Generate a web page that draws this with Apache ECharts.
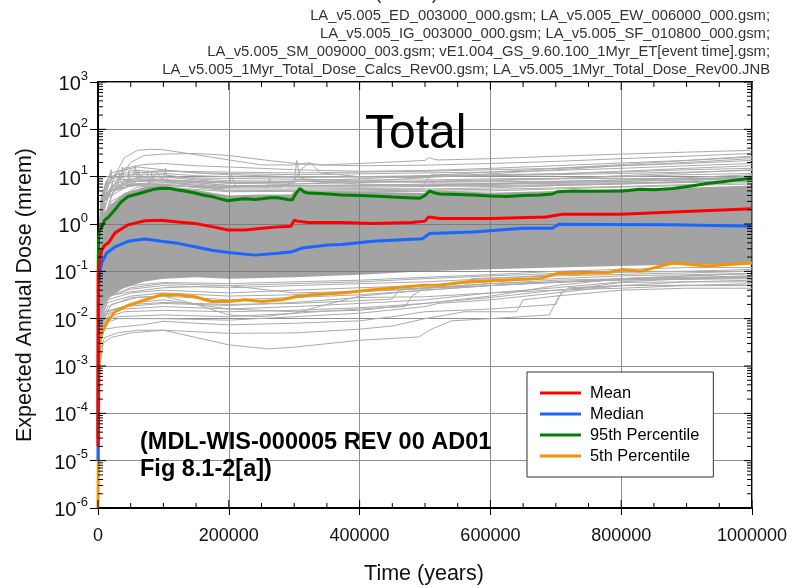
<!DOCTYPE html>
<html>
<head>
<meta charset="utf-8">
<script src="https://cdn.jsdelivr.net/npm/echarts@6/dist/echarts.min.js"></script>
<style>
  html, body { margin: 0; padding: 0; background: #fff; }
  #chart { width: 792px; height: 588px; }
</style>
</head>
<body>
<div id="chart"></div>
<script>
// Expected annual dose (mrem) versus time (years), pairs of [time, dose]
const meanDose = [[0,2e-5],[500,0.08],[1500,0.13],[5600,0.28],[10000,0.35],[16000,0.4],[26000,0.65],[46000,0.96],[72000,1.17],[97000,1.2],[122000,1.1],[148000,1.03],[174000,0.88],[199000,0.75],[225000,0.75],[251000,0.81],[281000,0.88],[295000,0.9],[300000,1.2],[305000,1.15],[321000,1.07],[373000,1.07],[420000,1.03],[480000,1.07],[500000,1.15],[505000,1.4],[523000,1.3],[600000,1.3],[685000,1.4],[710000,1.6],[800000,1.6],[880000,1.8],[1000000,2.1]];
const medianDose = [[0,1e-5],[1000,0.05],[3000,0.1],[5600,0.15],[13000,0.24],[26000,0.33],[46000,0.43],[72000,0.48],[97000,0.43],[122000,0.39],[148000,0.33],[174000,0.28],[199000,0.25],[240000,0.22],[275000,0.24],[297000,0.26],[312000,0.31],[352000,0.36],[373000,0.37],[420000,0.43],[496000,0.49],[507000,0.63],[573000,0.68],[650000,0.81],[694000,0.81],[705000,0.99],[778000,0.98],[879000,0.97],[1000000,0.9]];
const p95Dose = [[0,3e-5],[300,0.1],[800,0.5],[2000,0.7],[5000,0.8],[10000,1.2],[16000,1.4],[26000,2.0],[35000,2.9],[46000,3.8],[60000,4.3],[72000,4.8],[85000,5.4],[97000,5.7],[110000,5.6],[122000,5.2],[135000,4.9],[148000,4.5],[160000,4.1],[174000,3.8],[187000,3.4],[199000,3.1],[212000,3.3],[225000,3.4],[240000,3.3],[251000,3.4],[263000,3.6],[275000,3.6],[290000,3.3],[297000,3.2],[303000,4.5],[309000,5.6],[315000,4.8],[321000,4.5],[340000,4.4],[352000,4.3],[373000,4.1],[400000,4.0],[420000,3.9],[450000,3.7],[472000,3.6],[492000,3.5],[500000,4.0],[507000,5.0],[515000,4.5],[523000,4.3],[550000,4.2],[573000,4.1],[600000,3.9],[625000,3.8],[650000,4.0],[676000,4.1],[695000,4.3],[702000,4.8],[726000,5.0],[760000,4.9],[803000,5.0],[829000,5.4],[850000,5.3],[879000,5.6],[905000,6.3],[931000,7.2],[955000,7.8],[982000,8.7],[1000000,9.2]];
const p05Dose = [[0,1e-6],[1500,1e-3],[3000,0.003],[5600,0.0049],[16000,0.0093],[26000,0.014],[46000,0.019],[72000,0.025],[97000,0.032],[122000,0.032],[148000,0.029],[174000,0.023],[199000,0.023],[225000,0.025],[251000,0.023],[281000,0.025],[302000,0.029],[328000,0.032],[373000,0.035],[420000,0.041],[497000,0.051],[520000,0.051],[565000,0.06],[676000,0.071],[702000,0.09],[778000,0.093],[803000,0.11],[829000,0.1],[879000,0.15],[931000,0.13],[1000000,0.15]];

// Bulk of the realizations: upper and lower edge of the dense band
const coreUpper = [[0,1e-4],[500,0.5],[2000,1.0],[5000,1.3],[10000,1.8],[20000,2.6],[40000,4.5],[70000,6],[100000,6.5],[150000,5.2],[200000,4.0],[250000,4.2],[295000,4.2],[305000,5.5],[320000,5],[400000,4.8],[500000,4.5],[510000,5.2],[600000,4.6],[700000,5.0],[800000,5.5],[900000,5.8],[1000000,6.5]];
const coreLower = [[0,2e-6],[1500,1e-3],[4000,0.01],[10000,0.02],[20000,0.03],[40000,0.045],[70000,0.06],[100000,0.07],[150000,0.075],[200000,0.07],[300000,0.075],[400000,0.085],[500000,0.1],[600000,0.11],[700000,0.12],[800000,0.13],[900000,0.14],[1000000,0.14]];

// Individual high-dose realizations
const upperRuns = [
  [[2000,0.3],[10000,2],[25000,10],[40000,25],[60000,36],[80000,38],[100000,37],[150000,29],[200000,22.6],[250000,17.7],[300000,17.7],[320000,19.5],[340000,17.7],[400000,19],[500000,22],[505000,25],[520000,22.5],[600000,24],[700000,27],[800000,30],[900000,33],[1000000,36]],
  [[2000,0.2],[10000,1.5],[30000,8],[50000,20],[70000,28],[100000,30],[150000,31],[200000,28],[260000,22],[320000,18],[400000,17],[500000,17.5],[600000,19],[700000,21],[800000,24],[900000,27],[1000000,31]],
  [[2000,0.5],[8000,3],[20000,9],[40000,15],[70000,18],[100000,19],[150000,17],[200000,16],[300000,14],[400000,13],[500000,13.5],[600000,15],[700000,17],[800000,19.5],[900000,22],[1000000,26]],
  [[1500,0.3],[6000,2],[15000,7],[30000,13],[60000,16],[100000,14],[150000,12],[200000,11.7],[300000,11],[400000,11.5],[500000,12],[600000,12.5],[700000,13.5],[800000,15],[900000,17],[1000000,19]],
  [[1500,0.4],[5000,3],[12000,8],[25000,11],[50000,12.5],[90000,12],[150000,10.5],[200000,10],[300000,9.6],[400000,10],[500000,10.5],[600000,11],[700000,11.5],[800000,12.5],[900000,14],[1000000,15]],
  [[1000,0.2],[4000,2],[10000,6],[20000,9],[40000,10],[80000,10],[120000,9.5],[200000,9.2],[300000,8.8],[400000,8.5],[500000,8.5],[600000,9],[700000,9.2],[800000,10],[900000,11],[1000000,11.7]],
  [[1000,0.3],[5000,3],[15000,7],[30000,8.5],[60000,9],[100000,8.5],[200000,7.2],[300000,7],[400000,7.5],[500000,8],[600000,8.5],[700000,9],[800000,9.2],[900000,9.2],[1000000,9.2]],
  [[1000,0.2],[5000,2.5],[20000,6],[50000,7],[100000,7.5],[150000,7],[200000,6.1],[300000,6.5],[400000,6.7],[500000,6.7],[600000,7.2],[700000,7.9],[800000,8.5],[900000,9],[1000000,10]],
  [[1000,0.2],[8000,2],[20000,5],[60000,7],[120000,7],[200000,6],[280000,6],[300000,8],[304000,22],[308000,10],[320000,8],[400000,7],[500000,6.5],[600000,7],[700000,7.5],[800000,7.9],[900000,8.5],[1000000,9]],
  [[1000,0.2],[10000,3],[40000,8],[80000,9],[150000,8],[250000,7.5],[300000,8],[310000,14],[324000,20],[340000,12],[400000,10],[500000,9.5],[510000,11],[600000,10.5],[700000,11],[800000,11.7],[900000,12.5],[1000000,13.5]],
  [[1500,0.3],[10000,4],[40000,7],[100000,6.5],[180000,5.8],[200000,6],[204000,10.8],[210000,6.5],[260000,6],[262000,9.4],[268000,6.2],[300000,6],[400000,6],[500000,6.2],[600000,6.5],[700000,6.8],[800000,7.2],[900000,7.8],[1000000,8.5]],
  [[1500,0.4],[10000,4.5],[40000,6.5],[100000,6.8],[200000,5.5],[300000,5.5],[400000,5.6],[495000,5.5],[505000,10],[515000,6.5],[600000,6.2],[700000,6.5],[800000,7],[900000,8],[1000000,10.5]],
  [[2000,1],[10000,5],[20000,14],[22000,6],[35000,9],[37000,16],[40000,8],[55000,11],[57000,17],[60000,9],[75000,13],[77000,7],[90000,12],[100000,8],[150000,7.5],[200000,6.5],[300000,6.5],[400000,6.5],[500000,7],[700000,7.2],[1000000,8]],
  [[1000,0.3],[6000,2.5],[20000,6],[50000,8],[100000,8],[150000,6.5],[200000,5],[300000,5.2],[400000,5.3],[500000,5.5],[600000,5.8],[700000,6.5],[800000,7],[900000,7.5],[1000000,8]],
  [[1000,0.4],[8000,3.5],[25000,7],[60000,9.5],[100000,10],[150000,8.5],[200000,7.5],[300000,7.5],[310000,9],[400000,8],[500000,7.8],[600000,8.2],[700000,9],[800000,10.5],[900000,12],[1000000,14]],
  [[1500,0.5],[10000,4],[30000,6],[33000,12],[36000,7],[60000,8],[62000,14],[65000,8],[100000,9],[103000,15],[106000,8],[150000,7.5],[200000,6.5],[300000,6.3],[400000,6.3],[500000,6.5],[600000,6.8],[700000,7.5],[800000,8],[900000,8.7],[1000000,9.5]],
  [[1500,0.4],[8000,3],[25000,5],[45000,6],[47000,13],[50000,6.5],[80000,7],[82000,12],[85000,7],[120000,6.5],[200000,5],[300000,5],[400000,5],[500000,5.2],[600000,5.4],[700000,5.8],[800000,6.2],[900000,6.8],[1000000,7.5]],
  [[1000,0.3],[5000,3.5],[15000,9],[30000,11],[60000,11],[100000,11],[150000,9],[200000,8.2],[300000,8],[400000,7.8],[500000,7.6],[600000,7.8],[700000,8],[800000,8.5],[900000,9.5],[1000000,11]],
  [[1000,0.5],[5000,4],[20000,12],[40000,14],[80000,13],[120000,13],[200000,12.5],[300000,12],[400000,12.5],[500000,13],[600000,14],[700000,15],[800000,17],[900000,19],[1000000,22]],
  [[2000,0.4],[10000,3],[30000,9],[60000,12],[100000,13.5],[150000,12],[200000,11],[300000,10],[400000,9.8],[500000,10],[600000,10.5],[700000,11.5],[800000,13],[900000,15],[1000000,17]],
  [[1000,0.3],[6000,2.5],[20000,5.5],[60000,6.5],[100000,6],[200000,4.8],[300000,4.9],[400000,4.8],[500000,4.9],[600000,5],[700000,5.5],[800000,6],[900000,6.5],[1000000,7]],
  [[3000,0.3],[20000,4],[60000,8],[100000,8.5],[200000,7.5],[300000,8],[400000,9],[500000,10.5],[600000,12.5],[700000,15],[800000,18],[900000,22],[1000000,27]],
  [[3000,0.3],[20000,3],[60000,6],[100000,6.5],[200000,6],[300000,7],[400000,8],[500000,9.5],[600000,11.5],[700000,14],[800000,17],[900000,20],[1000000,24]]
];

// Individual low-dose realizations
const lowerRuns = [
  [[500,1e-5],[3000,0.001],[8000,0.003],[20000,0.004],[50000,0.005],[100000,0.0057],[150000,0.004],[200000,0.0028],[260000,0.0023],[300000,0.0025],[400000,0.0035],[490000,0.0041],[510000,0.006],[540000,0.009],[600000,0.01],[690000,0.012],[705000,0.03],[720000,0.045],[800000,0.05],[900000,0.05],[1000000,0.05]],
  [[500,2e-5],[3000,0.002],[10000,0.004],[30000,0.005],[60000,0.0057],[100000,0.0057],[200000,0.0049],[300000,0.005],[400000,0.006],[450000,0.007],[500000,0.01],[560000,0.014],[640000,0.014],[650000,0.025],[700000,0.03],[800000,0.04],[900000,0.044],[1000000,0.044]],
  [[500,3e-5],[3000,0.003],[10000,0.006],[30000,0.0066],[70000,0.0075],[100000,0.0088],[150000,0.008],[200000,0.0074],[300000,0.008],[400000,0.009],[450000,0.011],[500000,0.014],[600000,0.016],[700000,0.02],[710000,0.04],[800000,0.058],[900000,0.06],[1000000,0.06]],
  [[500,5e-5],[3000,0.004],[10000,0.008],[30000,0.01],[100000,0.01],[200000,0.0093],[300000,0.011],[400000,0.013],[500000,0.018],[520000,0.021],[600000,0.025],[700000,0.035],[800000,0.05],[900000,0.051],[1000000,0.051]],
  [[500,1e-4],[3000,0.005],[10000,0.009],[30000,0.011],[100000,0.012],[200000,0.011],[300000,0.013],[400000,0.016],[470000,0.018],[480000,0.03],[500000,0.045],[600000,0.05],[700000,0.058],[800000,0.066],[900000,0.07],[1000000,0.073]],
  [[500,1e-4],[3000,0.006],[10000,0.01],[40000,0.014],[100000,0.015],[200000,0.014],[300000,0.015],[400000,0.017],[500000,0.021],[600000,0.028],[700000,0.04],[800000,0.05],[900000,0.06],[1000000,0.065]],
  [[500,2e-4],[3000,0.007],[10000,0.012],[40000,0.016],[100000,0.018],[200000,0.016],[300000,0.018],[400000,0.021],[500000,0.025],[600000,0.035],[700000,0.045],[800000,0.06],[900000,0.07],[1000000,0.08]],
  [[500,3e-4],[3000,0.008],[10000,0.014],[40000,0.018],[100000,0.021],[200000,0.019],[300000,0.022],[400000,0.028],[500000,0.029],[600000,0.035],[700000,0.04],[800000,0.044],[900000,0.05],[1000000,0.055]],
  [[500,2e-4],[5000,0.006],[20000,0.015],[60000,0.022],[100000,0.025],[150000,0.02],[200000,0.016],[300000,0.014],[400000,0.015],[500000,0.021],[600000,0.03],[700000,0.05],[800000,0.07],[900000,0.08],[1000000,0.09]],
  [[500,3e-4],[5000,0.008],[20000,0.02],[60000,0.028],[100000,0.03],[150000,0.02],[200000,0.012],[250000,0.011],[300000,0.013],[350000,0.02],[400000,0.03],[500000,0.04],[600000,0.05],[800000,0.07],[1000000,0.09]],
  [[500,5e-4],[4000,0.01],[15000,0.025],[50000,0.035],[100000,0.04],[200000,0.035],[300000,0.04],[400000,0.045],[500000,0.05],[600000,0.06],[700000,0.07],[800000,0.08],[900000,0.085],[1000000,0.09]],
  [[500,6e-4],[4000,0.012],[15000,0.03],[50000,0.042],[100000,0.05],[200000,0.045],[300000,0.05],[400000,0.055],[500000,0.06],[600000,0.07],[700000,0.085],[800000,0.095],[900000,0.1],[1000000,0.11]],
  [[500,8e-4],[4000,0.015],[15000,0.035],[50000,0.05],[100000,0.058],[200000,0.055],[300000,0.06],[400000,0.065],[500000,0.075],[600000,0.085],[700000,0.1],[800000,0.11],[900000,0.12],[1000000,0.12]],
  [[500,1e-3],[4000,0.02],[15000,0.03],[50000,0.037],[100000,0.045],[200000,0.05],[300000,0.035],[400000,0.038],[500000,0.045],[560000,0.047],[570000,0.07],[700000,0.08],[1000000,0.1]],
  [[500,5e-4],[4000,0.008],[15000,0.018],[50000,0.028],[100000,0.03],[200000,0.025],[300000,0.028],[400000,0.032],[500000,0.04],[600000,0.05],[700000,0.06],[800000,0.068],[1000000,0.075]],
  [[500,4e-4],[4000,0.01],[15000,0.022],[50000,0.03],[100000,0.035],[200000,0.03],[300000,0.032],[400000,0.037],[500000,0.043],[600000,0.055],[700000,0.065],[800000,0.07],[1000000,0.08]],
  [[500,7e-4],[4000,0.013],[15000,0.028],[50000,0.045],[100000,0.055],[200000,0.05],[300000,0.055],[400000,0.06],[500000,0.07],[600000,0.08],[700000,0.09],[800000,0.1],[1000000,0.1]],
  [[500,3e-4],[4000,0.007],[15000,0.014],[50000,0.02],[100000,0.022],[200000,0.02],[300000,0.021],[400000,0.024],[450000,0.026],[460000,0.04],[500000,0.045],[600000,0.055],[800000,0.065],[1000000,0.07]]
];

const statNames = ['Mean', 'Median', '95th Percentile', '5th Percentile'];
const statColors = ['#ff0000', '#1a66ff', '#008000', '#f0950a'];

const headerLines = [
  'LA_v5.005_ED_003000_000.gsm; LA_v5.005_EW_006000_000.gsm;',
  'LA_v5.005_IG_003000_000.gsm; LA_v5.005_SF_010800_000.gsm;',
  'LA_v5.005_SM_009000_003.gsm; vE1.004_GS_9.60.100_1Myr_ET[event time].gsm;',
  'LA_v5.005_1Myr_Total_Dose_Calcs_Rev00.gsm; LA_v5.005_1Myr_Total_Dose_Rev00.JNB'
];

const FONT = '"Liberation Sans", Arial, Helvetica, sans-serif';
const X_MIN = 0, X_MAX = 1000000, Y_MIN = 1e-6, Y_MAX = 1e3;

const chart = echarts.init(document.getElementById('chart'), null, { renderer: 'canvas' });

const series = [];

// dense band of realizations
series.push({
  type: 'custom',
  name: 'core',
  silent: true,
  z: 1,
  data: [[0, 1]],
  renderItem: function (params, api) {
    const pts = coreUpper.map(p => api.coord(p))
      .concat(coreLower.slice().reverse().map(p => api.coord(p)));
    return { type: 'polygon', shape: { points: pts }, style: { fill: 'rgba(115,115,115,0.66)', stroke: 'none' } };
  }
});

upperRuns.concat(lowerRuns).forEach((run, i) => {
  series.push({
    type: 'line', name: 'run' + i, data: run, showSymbol: false, silent: true, z: 2,
    lineStyle: { color: '#ababab', width: 1 }, animation: false
  });
});

const statData = [meanDose, medianDose, p95Dose, p05Dose];
// draw order: orange, green, blue, red on top
[3, 2, 1, 0].forEach(i => {
  series.push({
    type: 'line', name: statNames[i], data: statData[i], showSymbol: false, z: 5 + (3 - i),
    lineStyle: { color: statColors[i], width: 3 }, itemStyle: { color: statColors[i] }, animation: false
  });
});

// tick marks on the plot frame
series.push({
  type: 'custom',
  name: 'frameTicks',
  silent: true,
  z: 10,
  clip: false,
  data: [[0, 1]],
  renderItem: function (params, api) {
    const kids = [];
    const seg = (x1, y1, x2, y2) => kids.push({ type: 'line', shape: { x1, y1, x2, y2 }, style: { stroke: '#000', lineWidth: 1 } });
    for (let e = -6; e <= 3; e++) {
      const v = Math.pow(10, e);
      const l = api.coord([X_MIN, v]), r = api.coord([X_MAX, v]);
      seg(l[0], l[1], l[0] + 8, l[1]);
      seg(r[0] - 8, r[1], r[0], r[1]);
      if (e < 3) {
        for (let k = 2; k <= 9; k++) {
          const l2 = api.coord([X_MIN, k * v]), r2 = api.coord([X_MAX, k * v]);
          seg(l2[0], l2[1], l2[0] + 5, l2[1]);
          seg(r2[0] - 5, r2[1], r2[0], r2[1]);
        }
      }
    }
    for (let t = X_MIN; t <= X_MAX; t += 50000) {
      const b = api.coord([t, Y_MIN]), tp = api.coord([t, Y_MAX]);
      const len = (t % 200000 === 0) ? 8 : 5;
      seg(b[0], b[1], b[0], b[1] - len);
      seg(tp[0], tp[1], tp[0], tp[1] + len);
    }
    return { type: 'group', children: kids };
  }
});

const option = {
  backgroundColor: '#fff',
  animation: false,
  textStyle: { fontFamily: FONT },
  grid: { left: 98, right: 40, top: 82, bottom: 80, show: true, borderColor: '#000', borderWidth: 2, backgroundColor: 'transparent' },
  xAxis: {
    type: 'value', min: X_MIN, max: X_MAX, interval: 200000,
    axisLine: { show: true, lineStyle: { color: '#000', width: 2 } },
    axisTick: { show: true, length: 7, lineStyle: { color: '#000' } },
    axisLabel: { fontSize: 18, color: '#111', margin: 19, fontFamily: FONT, formatter: v => String(v) },
    splitLine: { show: true, lineStyle: { color: '#8f8f8f', width: 1 } }
  },
  yAxis: {
    type: 'log', logBase: 10, min: Y_MIN, max: Y_MAX, splitNumber: 9,
    axisLine: { show: true, lineStyle: { color: '#000', width: 2 } },
    axisTick: { show: true, length: 8, lineStyle: { color: '#000' } },
    axisLabel: {
      margin: 10, color: '#111', fontFamily: FONT,
      formatter: v => '{b|10}{s|' + Math.round(Math.log10(v)) + '}',
      rich: {
        b: { fontSize: 20, fontFamily: FONT, color: '#111', lineHeight: 25, verticalAlign: 'bottom' },
        s: { fontSize: 13, fontFamily: FONT, color: '#111', lineHeight: 13, verticalAlign: 'top' }
      }
    },
    splitLine: { show: true, lineStyle: { color: '#8f8f8f', width: 1 } }
  },
  legend: {
    data: statNames,
    orient: 'vertical', left: 527, top: 372,
    padding: [13, 14, 13, 13], itemGap: 5,
    itemWidth: 41, itemHeight: 3, icon: 'rect',
    backgroundColor: '#fff', borderColor: '#333', borderWidth: 1,
    textStyle: { fontSize: 16.4, color: '#000', fontFamily: FONT, padding: [0, 0, 0, 4] },
    selectedMode: false
  },
  graphic: [
    { type: 'text', x: 382, y: -7, style: { text: 'Time (Years)', font: '20px ' + FONT, fill: '#333', textAlign: 'center', textVerticalAlign: 'middle' } },
    ...headerLines.map((s, i) => ({
      type: 'text', x: 770, y: 16 + i * 18,
      style: { text: s, font: '14.8px ' + FONT, fill: '#333', textAlign: 'right', textVerticalAlign: 'middle' }
    })),
    { type: 'text', x: 365, y: 135, z: 20, style: { text: 'Total', font: '48px ' + FONT, fill: '#000', textAlign: 'left', textVerticalAlign: 'middle' } },
    { type: 'text', x: 140, y: 443, z: 20, style: { text: '(MDL-WIS-000005 REV 00 AD01', font: 'bold 23.5px ' + FONT, fill: '#000', textAlign: 'left', textVerticalAlign: 'middle' } },
    { type: 'text', x: 140, y: 470, z: 20, style: { text: 'Fig 8.1-2[a])', font: 'bold 23.5px ' + FONT, fill: '#000', textAlign: 'left', textVerticalAlign: 'middle' } },
    { type: 'text', x: 25, y: 295, rotation: Math.PI / 2, style: { text: 'Expected Annual Dose (mrem)', font: '21.5px ' + FONT, fill: '#111', textAlign: 'center', textVerticalAlign: 'middle' } },
    { type: 'text', x: 424, y: 574, style: { text: 'Time (years)', font: '21.5px ' + FONT, fill: '#111', textAlign: 'center', textVerticalAlign: 'middle' } }
  ],
  series: series
};

chart.setOption(option);
</script>
</body>
</html>
